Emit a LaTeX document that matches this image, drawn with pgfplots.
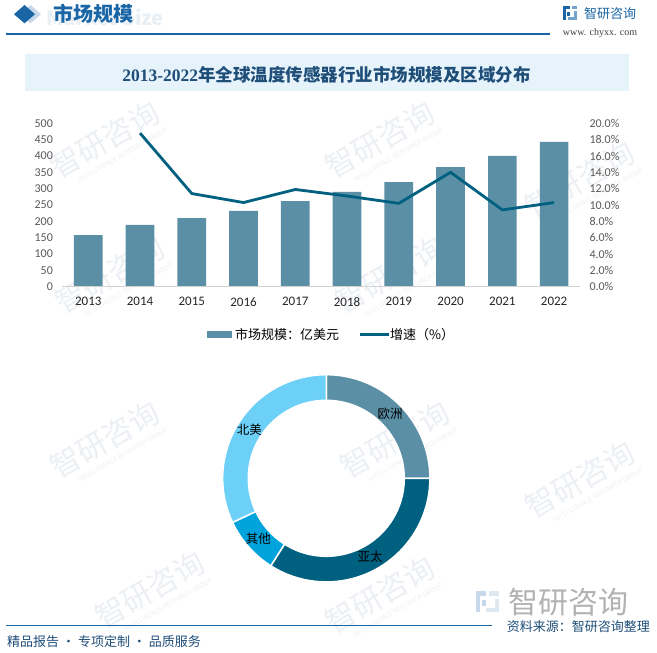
\documentclass[border=0pt]{standalone}
\usepackage{fontspec}
\usepackage{pgfplots}
\pgfplotsset{compat=1.18}
\setmainfont{Noto Sans CJK SC}
\newfontfamily\carl{Carlito}
\newfontfamily\tser{Liberation Serif}
\definecolor{barc}{HTML}{5B8FA6}
\definecolor{linec}{HTML}{006080}
\definecolor{euc}{HTML}{5B8FA6}
\definecolor{apc}{HTML}{006080}
\definecolor{othc}{HTML}{00A3DB}
\definecolor{nac}{HTML}{6DD0F7}
\definecolor{hdr}{HTML}{1A65A5}
\definecolor{ttl}{HTML}{1F4E79}
\definecolor{tickc}{HTML}{595959}
\definecolor{boxc}{HTML}{E6F3FB}
\definecolor{wm}{HTML}{ECF0F4}
\begin{document}
\begin{tikzpicture}
\path[use as bounding box, fill=white] (0,0) rectangle (657pt,-653pt);
% faint watermarks
\foreach \x/\y in {105/140, 380/140, 580/180, 110/275, 390/275, 105/440, 395/440, 580/480, 150/590, 380/595}{
  \begin{scope}[shift={(\x pt,-\y pt)}, rotate=30, transform shape]
  \node[text=wm, inner sep=0pt, font=\fontsize{30}{30}\selectfont] at (0,0) {智研咨询};
  \node[text=wm, inner sep=0pt, font=\fontsize{6.5}{6.5}\selectfont] at (8pt,-22pt) {INTELLIGENCE RESEARCH GROUP};
  \end{scope}
}
% header
\fill[hdr!25] (20pt,-14.2pt) -- (30.5pt,-5pt) -- (41pt,-14.2pt) -- (30.5pt,-23.3pt) -- cycle;
\fill[hdr] (14pt,-14.2pt) -- (24.5pt,-5pt) -- (35pt,-14.2pt) -- (24.5pt,-23.3pt) -- cycle;
\node[anchor=east, inner sep=0pt, text=hdr!10, font=\fontsize{20}{20}\selectfont\bfseries] at (164pt,-17pt) {Market Size};
\node[anchor=west, inner sep=0pt, font=\fontsize{20}{20}\selectfont\bfseries, text=hdr] at (53pt,-13.5pt) {市场规模};
\draw[hdr, line width=1.5pt] (6pt,-34pt) -- (550pt,-34pt);
% logo top right
\fill[hdr] (563pt,-6pt) rectangle (570pt,-9pt);
\fill[hdr] (563pt,-6pt) rectangle (566pt,-20pt);
\fill[hdr] (567pt,-12pt) rectangle (570pt,-16pt);
\fill[hdr!60] (572pt,-6pt) rectangle (577pt,-9pt);
\fill[hdr!60] (574pt,-11pt) rectangle (577pt,-20pt);
\fill[hdr!60] (568pt,-17pt) rectangle (577pt,-20pt);
\node[anchor=west, inner sep=0pt, font=\fontsize{13}{13}\selectfont, text=hdr] at (584pt,-13.3pt) {智研咨询};
\node[inner sep=0pt, font=\tser\fontsize{10}{10}\selectfont, text=black!75] at (600pt,-32.7pt) {www. chyxx. com};
% title
\fill[boxc] (25pt,-54pt) rectangle (629pt,-90.7pt);
\node[inner sep=0pt, font=\fontsize{17.5}{17.5}\selectfont\bfseries, text=ttl] at (326.5pt,-75pt) {{\tser 2013-2022}年全球温度传感器行业市场规模及区域分布};
% bar axis
\begin{axis}[
  at={(62.4pt,-286.7pt)}, anchor=south west, scale only axis,
  width=517.6pt, height=163.4pt,
  xmin=-0.5, xmax=9.5, ymin=0, ymax=500,
  axis line style={draw=none}, major tick length=0pt,
  xtick={0,...,9}, xticklabels={2013,2014,2015,2016,2017,2018,2019,2020,2021,2022},
  ytick={0,50,...,500},
  /pgf/number format/assume math mode=true,
  yticklabel style={font=\carl\fontsize{12}{12}\selectfont, text=tickc, xshift=-6pt},
  xticklabel style={font=\carl\fontsize{13}{13}\selectfont, text=black!85, yshift=-7pt},
  clip=false,
]
\addplot[ybar, bar width=28.7pt, fill=barc, draw=none] coordinates {
  (0,158) (1,189) (2,210) (3,232) (4,262) (5,290) (6,320) (7,366) (8,400) (9,443)};
\draw[black!18, line width=0.8pt] (axis cs:-0.5,0) -- (axis cs:9.5,0);
\end{axis}
% line axis
\begin{axis}[
  at={(62.4pt,-286.7pt)}, anchor=south west, scale only axis,
  width=517.6pt, height=163.4pt,
  xmin=-0.5, xmax=9.5, ymin=0, ymax=20,
  axis x line=none, axis y line*=right, y axis line style={draw=none},
  major tick length=0pt,
  ytick={0,2,...,20},
  /pgf/number format/assume math mode=true,
  yticklabel={\pgfmathprintnumber[fixed,fixed zerofill,precision=1]{\tick}\%},
  yticklabel style={font=\carl\fontsize{12}{12}\selectfont, text=tickc, xshift=6pt},
]
\addplot[linec, line width=2.8pt, line join=round] coordinates {
  (1,18.8) (2,11.4) (3,10.3) (4,11.9) (5,11.1) (6,10.2) (7,14.0) (8,9.4) (9,10.3)};
\end{axis}
% legend
\fill[barc] (206.7pt,-331pt) rectangle (231.7pt,-338pt);
\node[anchor=west, inner sep=0pt, font=\fontsize{13}{13}\selectfont] at (235pt,-334.5pt) {市场规模：亿美元};
\draw[linec, line width=2.8pt] (360pt,-334.5pt) -- (389pt,-334.5pt);
\node[anchor=west, inner sep=0pt, font=\fontsize{13}{13}\selectfont] at (390pt,-334.5pt) {增速（\%）};
% donut
\pgfmathsetmacro\sEU{25}
\pgfmathsetmacro\sAP{34}
\pgfmathsetmacro\sOT{9}
\pgfmathsetmacro\sNA{32}
\pgfmathsetmacro\aA{90-3.6*\sEU}
\pgfmathsetmacro\aB{\aA-3.6*\sAP}
\pgfmathsetmacro\aC{\aB-3.6*\sOT}
\pgfmathsetmacro\aD{\aC-3.6*\sNA}
\begin{axis}[
  at={(326.3pt,-478.3pt)}, anchor=center, scale only axis,
  width=207.2pt, height=207.2pt, hide axis,
  xmin=-1, xmax=1, ymin=-1, ymax=1, clip=false,
]
\fill[euc, draw=white, line width=1.5pt] (axis cs:0,0) ++(90:103.6pt) arc[start angle=90, end angle=\aA, radius=103.6pt] -- ++({\aA+180}:25.6pt) arc[start angle=\aA, end angle=90, radius=78pt] -- cycle;
\fill[apc, draw=white, line width=1.5pt] (axis cs:0,0) ++(\aA:103.6pt) arc[start angle=\aA, end angle=\aB, radius=103.6pt] -- ++({\aB+180}:25.6pt) arc[start angle=\aB, end angle=\aA, radius=78pt] -- cycle;
\fill[othc, draw=white, line width=1.5pt] (axis cs:0,0) ++(\aB:103.6pt) arc[start angle=\aB, end angle=\aC, radius=103.6pt] -- ++({\aC+180}:25.6pt) arc[start angle=\aC, end angle=\aB, radius=78pt] -- cycle;
\fill[nac, draw=white, line width=1.5pt] (axis cs:0,0) ++(\aC:103.6pt) arc[start angle=\aC, end angle=\aD, radius=103.6pt] -- ++({\aD+180}:25.6pt) arc[start angle=\aD, end angle=\aC, radius=78pt] -- cycle;
\end{axis}
\node[font=\fontsize{12.5}{12.5}\selectfont] at (390pt,-413.3pt) {欧洲};
\node[font=\fontsize{12.5}{12.5}\selectfont] at (370pt,-556.7pt) {亚太};
\node[font=\fontsize{12.5}{12.5}\selectfont] at (258.3pt,-538.3pt) {其他};
\node[font=\fontsize{12.5}{12.5}\selectfont] at (249.3pt,-429.3pt) {北美};
% footer
\fill[hdr!25] (476pt,-591pt) rectangle (486pt,-596pt);
\fill[hdr!25] (476pt,-591pt) rectangle (480pt,-612pt);
\fill[hdr!25] (482pt,-600pt) rectangle (486pt,-606pt);
\fill[hdr!15] (489pt,-591pt) rectangle (499pt,-596pt);
\fill[hdr!15] (495pt,-599pt) rectangle (499pt,-612pt);
\fill[hdr!15] (486pt,-608pt) rectangle (499pt,-612pt);
\node[anchor=west, inner sep=0pt, text=black!30, font=\fontsize{30}{30}\selectfont] at (508pt,-602pt) {智研咨询};
\draw[hdr, line width=1.2pt] (6pt,-625.7pt) -- (492pt,-625.7pt);
\node[anchor=east, inner sep=0pt, font=\fontsize{13}{13}\selectfont, text=ttl] at (650pt,-626.7pt) {资料来源：智研咨询整理};
\node[anchor=west, inner sep=0pt, font=\fontsize{13}{13}\selectfont, text=ttl] at (7pt,-641.7pt) {精品报告 · 专项定制 · 品质服务};
\end{tikzpicture}
\end{document}
